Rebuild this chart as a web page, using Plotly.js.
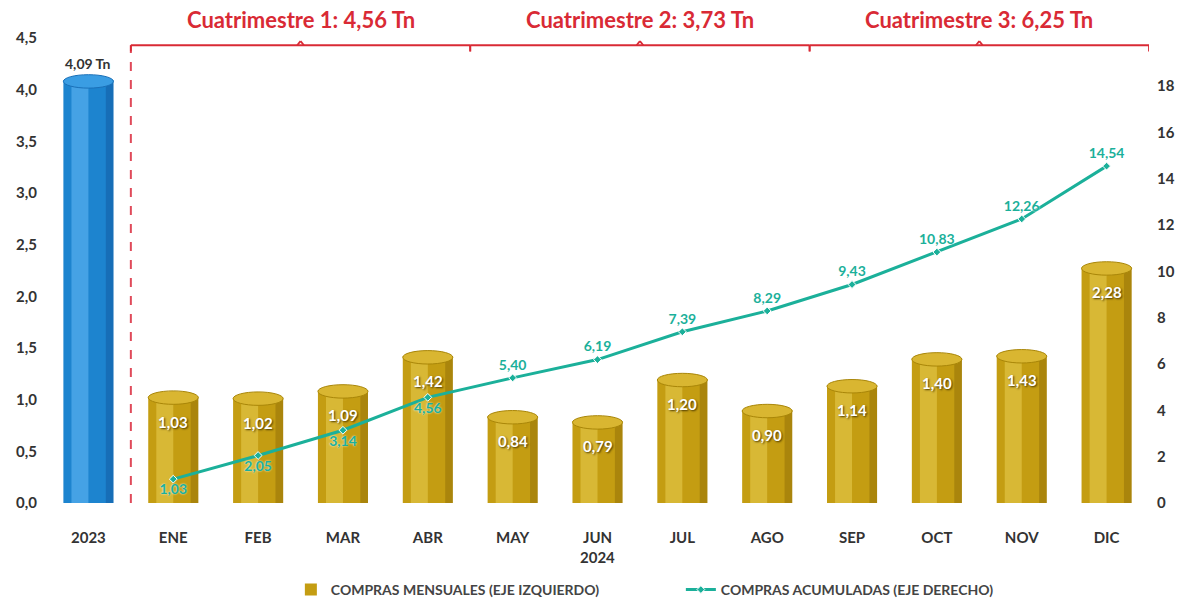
<!DOCTYPE html>
<html><head><meta charset="utf-8">
<script src="https://cdn.plot.ly/plotly-3.0.1.min.js"></script>
<style>html,body{margin:0;padding:0;background:#fff}#chart{width:1181px;height:600px}</style>
</head><body><div id="chart"></div>
<script>
const categories = ['2023','ENE','FEB','MAR','ABR','MAY','JUN','JUL','AGO','SEP','OCT','NOV','DIC'];
const monthlyValues = [4.09,1.03,1.02,1.09,1.42,0.84,0.79,1.20,0.90,1.14,1.40,1.43,2.28];
const cumulativeCats = ['ENE','FEB','MAR','ABR','MAY','JUN','JUL','AGO','SEP','OCT','NOV','DIC'];
const cumulativeValues = [1.03,2.05,3.14,4.56,5.40,6.19,7.39,8.29,9.43,10.83,12.26,14.54];
const quarterLabels = ['Cuatrimestre 1: 4,56 Tn','Cuatrimestre 2: 3,73 Tn','Cuatrimestre 3: 6,25 Tn'];
const quarterStart = [0.5,4.5,8.5];
const quarterEnd = [4.5,8.5,12.5];
const leftTicks = [0,0.5,1,1.5,2,2.5,3,3.5,4,4.5];
const rightTicks = [0,2,4,6,8,10,12,14,16,18];

const fmt = v => v.toFixed(2).replace('.',',');
const GOLD = '#c49d12', BLUE = '#1d84cf', TEAL = '#1bb09a', RED = '#d92a35';
const FONT = 'Lato, "Open Sans", sans-serif';
const prevCats = categories.slice(0,1), prevVals = monthlyValues.slice(0,1);
const monCats = categories.slice(1), monVals = monthlyValues.slice(1);
const BW = 0.59;

const traces = [
  {type:'bar', x:prevCats, y:prevVals, width:BW, showlegend:false, marker:{color:BLUE, line:{width:0}}, hoverinfo:'skip'},
  {type:'bar', x:monCats, y:monVals, width:BW, name:'COMPRAS MENSUALES (EJE IZQUIERDO)',
   marker:{color:GOLD, line:{width:0}}, hoverinfo:'skip'},
  {type:'bar', x:prevCats, y:prevVals, width:0.2, offset:-0.2, showlegend:false, marker:{color:'rgba(120,200,255,0.45)', line:{width:0}}, hoverinfo:'skip'},
  {type:'bar', x:monCats, y:monVals, width:0.2, offset:-0.2, showlegend:false, marker:{color:'rgba(255,235,120,0.35)', line:{width:0}}, hoverinfo:'skip'},
  {type:'bar', x:prevCats, y:prevVals, width:0.09, offset:0.205, showlegend:false, marker:{color:'rgba(10,60,130,0.30)', line:{width:0}}, hoverinfo:'skip'},
  {type:'bar', x:monCats, y:monVals, width:0.09, offset:0.205, showlegend:false, marker:{color:'rgba(110,80,0,0.30)', line:{width:0}}, hoverinfo:'skip'},
  {type:'scatter', x:cumulativeCats, y:cumulativeValues, yaxis:'y2', mode:'lines+markers+text',
   name:'COMPRAS ACUMULADAS (EJE DERECHO)',
   line:{color:TEAL, width:3}, marker:{color:TEAL, size:6, symbol:'diamond', line:{color:'#fff',width:1}},
   text:cumulativeValues.map(fmt),
   textposition:cumulativeValues.map((v,i)=> i<4 ? 'bottom center' : 'top center'),
   textfont:{family:FONT, size:14, color:TEAL, weight:'bold', shadow:'0px 0px 2px #ffffff'},
   cliponaxis:false, hoverinfo:'skip'}
];

const shapes = [];
const annotations = [];
const bY = 4.43;
shapes.push({type:'line', xref:'x', yref:'y', x0:0.5, x1:0.5, y0:0, y1:bY, line:{color:'#e04a5a', width:2, dash:'dash'}});
quarterStart.forEach((s,i)=>{
  const e = quarterEnd[i], m = (s+e)/2;
  shapes.push({type:'line', xref:'x', yref:'y', x0:s, x1:e, y0:bY, y1:bY, line:{color:RED,width:1.8}});
  shapes.push({type:'line', xref:'x', yref:'y', x0:s, x1:s, y0:bY, y1:bY-0.06, line:{color:RED,width:1.8}});
  shapes.push({type:'line', xref:'x', yref:'y', x0:e, x1:e, y0:bY, y1:bY-0.06, line:{color:RED,width:1.8}});
  shapes.push({type:'line', xref:'x', yref:'y', x0:m-0.04, x1:m, y0:bY, y1:bY+0.04, line:{color:RED,width:1.8}});
  shapes.push({type:'line', xref:'x', yref:'y', x0:m, x1:m+0.04, y0:bY+0.04, y1:bY, line:{color:RED,width:1.8}});
  annotations.push({xref:'x', yref:'paper', x:m, y:1, yshift:19, yanchor:'middle', text:quarterLabels[i], showarrow:false,
    font:{family:FONT, size:22, color:RED, weight:'bold'}});
});
categories.forEach((c,i)=>{
  const v = monthlyValues[i];
  shapes.push({type:'circle', xref:'x', yref:'y', layer:'above', x0:i-BW/2, x1:i+BW/2, y0:v-0.075, y1:v+0.055,
    fillcolor: i===0 ? '#3a9de3' : '#d9b631', line:{color: i===0 ? '#1a70b8' : '#a98608', width:1}});
});
categories.forEach((c,i)=>{
  if(i===0){
    annotations.push({xref:'x', yref:'y', x:i, y:monthlyValues[i], yshift:6, yanchor:'bottom', text:fmt(monthlyValues[i])+' Tn',
      showarrow:false, font:{family:FONT, size:14, color:'#333', weight:'bold'}});
  } else {
    annotations.push({xref:'x', yref:'y', x:i, y:monthlyValues[i], yshift:-25, text:fmt(monthlyValues[i]),
      showarrow:false, font:{family:FONT, size:15, color:'#ffffff', weight:'bold', shadow:'1px 1px 2px #4a3800'}});
  }
});
annotations.push({xref:'x', yref:'paper', x:categories.indexOf('JUN'), y:0, yshift:-54, yanchor:'middle', text:'2024', showarrow:false,
  font:{family:FONT, size:15, color:'#333', weight:'bold'}});

const layout = {
  width:1181, height:600,
  margin:{l:46, r:32, t:38, b:97, autoexpand:false},
  paper_bgcolor:'#fff', plot_bgcolor:'#fff',
  separators:',.',
  barmode:'overlay',
  font:{family:FONT, color:'#333'},
  xaxis:{type:'category', categoryorder:'array', categoryarray:categories, range:[-0.5, categories.length-0.5], autorange:false,
    showgrid:false, zeroline:false, showline:false, ticks:'',
    ticklabelstandoff:24, tickfont:{family:FONT, size:15, color:'#333', weight:'bold'}},
  yaxis:{range:[0,4.5], tickvals:leftTicks, tickformat:'.1f', showgrid:false, zeroline:false, showline:false,
    ticks:'', ticklabelstandoff:8, tickfont:{family:FONT, size:15, color:'#333', weight:'bold'}},
  yaxis2:{overlaying:'y', side:'right', range:[0,20.07], tickvals:rightTicks, showgrid:false, zeroline:false,
    showline:false, ticks:'', ticklabelstandoff:7, tickfont:{family:FONT, size:15, color:'#333', weight:'bold'}},
  showlegend:true,
  legend:{orientation:'h', x:0.222, xanchor:'left', y:-0.187, yanchor:'middle',
    entrywidth:345, entrywidthmode:'pixels',
    font:{family:FONT, size:14, color:'#444', weight:'bold'}},
  shapes:shapes, annotations:annotations
};
Plotly.newPlot('chart', traces, layout, {displayModeBar:false, staticPlot:true});
</script></body></html>
